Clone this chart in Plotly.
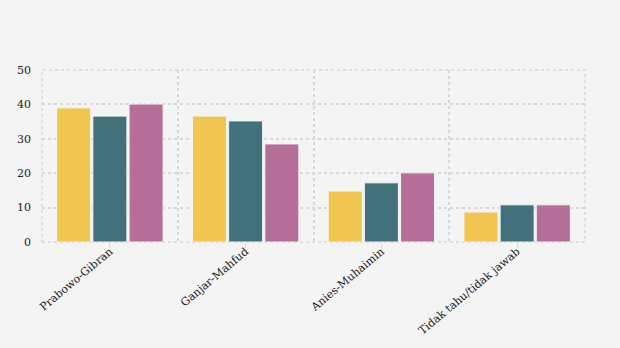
import plotly.graph_objects as go

categories = ["Prabowo-Gibran", "Ganjar-Mahfud", "Anies-Muhaimin", "Tidak tahu/tidak jawab"]
series_names = ["Seri 1", "Seri 2", "Seri 3"]
series_1 = [39.0, 36.6, 14.8, 8.7]
series_2 = [36.6, 35.2, 17.2, 10.8]
series_3 = [40.1, 28.5, 20.1, 10.8]
y_ticks = [0, 10, 20, 30, 40, 50]

colors = ["#F0C651", "#41727B", "#B46E98"]
font = dict(family="DejaVu Serif", size=11, color="#222222")
grid = "#D8D8D8"

fig = go.Figure()
for name, vals, c in zip(series_names, [series_1, series_2, series_3], colors):
    fig.add_trace(go.Bar(x=categories, y=vals, name=name, marker=dict(color=c, line=dict(color="#F4F4F4", width=1))))

# invisible trace for boundary gridlines
fig.add_trace(go.Scatter(x=[-0.5, 3.5], y=[0, 0], xaxis="x2", mode="markers",
                         marker=dict(opacity=0), showlegend=False, hoverinfo="skip"))

xr = [-0.5, 3.5]
fig.update_layout(
    width=620, height=348,
    paper_bgcolor="#F4F4F4", plot_bgcolor="#F4F4F4",
    margin=dict(l=42, r=35, t=70, b=106),
    barmode="group", bargap=0.2, bargroupgap=0.06,
    showlegend=False,
    font=font,
    xaxis=dict(showgrid=False, tickangle=-40, ticks="",
               showline=False, zeroline=False, tickfont=font, automargin=False, range=xr),
    xaxis2=dict(overlaying="x", side="bottom", type="linear", range=xr, tick0=-0.5, dtick=1,
                showgrid=True, gridcolor=grid, griddash="dot", gridwidth=1.5, ticks="",
                minor=dict(tick0=0, dtick=1, ticks="outside", ticklen=5, tickcolor=grid, showgrid=False),
                showticklabels=False, zeroline=False, automargin=False),
    yaxis=dict(range=[0, 50], tickvals=y_ticks, showgrid=True, gridcolor=grid,
               griddash="dot", gridwidth=1.5, zeroline=False, showline=False,
               ticks="", tickfont=font, ticklabelstandoff=10, automargin=False),
    shapes=[dict(type="rect", xref="paper", yref="paper", x0=0, x1=1, y0=0, y1=1,
                 line=dict(color=grid, width=1.5, dash="dot"), layer="below")],
)
fig.write_html("out.html")
